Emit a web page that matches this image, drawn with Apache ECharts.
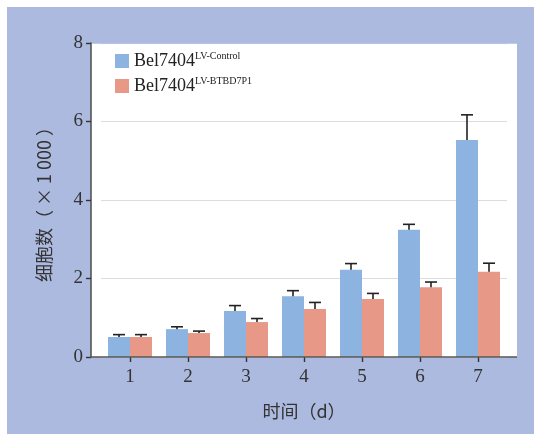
<!DOCTYPE html>
<html>
<head>
<meta charset="utf-8">
<script src="https://cdn.jsdelivr.net/npm/echarts@6/dist/echarts.min.js"></script>
<style>
  html, body { margin: 0; padding: 0; background: #ffffff; }
  #chart { width: 534px; height: 434px; }
</style>
</head>
<body>
<div id="chart"></div>
<script>
// Days of culture
const days = ['1', '2', '3', '4', '5', '6', '7'];

// Cell counts (×1 000), mean and error per day
const controlMean = [0.51, 0.71, 1.17, 1.55, 2.22, 3.24, 5.53];
const controlErr  = [0.06, 0.06, 0.14, 0.14, 0.16, 0.14, 0.64];
const btbdMean    = [0.51, 0.61, 0.89, 1.22, 1.48, 1.78, 2.17];
const btbdErr     = [0.06, 0.05, 0.09, 0.17, 0.14, 0.13, 0.22];

// Y-axis ticks
const yTicks = [0, 2, 4, 6, 8];

const nameControl = 'Bel7404LV-Control';
const nameBtbd = 'Bel7404LV-BTBD7P1';

const BAR_W = 22;
const serif = '"Liberation Serif", "DejaVu Serif", serif';
const cjk = '"Noto Sans CJK SC", sans-serif';

function errorSeries(means, errs, shift) {
  return {
    type: 'custom',
    z: 5,
    silent: true,
    data: means.map((m, i) => [i, m, errs[i]]),
    renderItem: function (params, api) {
      const i = api.value(0), m = api.value(1), e = api.value(2);
      const base = api.coord([i, m]);
      const top = api.coord([i, m + e]);
      const x = base[0] + shift;
      const style = { stroke: '#222', lineWidth: 1.6 };
      return {
        type: 'group',
        children: [
          { type: 'line', shape: { x1: x, y1: base[1], x2: x, y2: top[1] }, style: style },
          { type: 'line', shape: { x1: x - 6, y1: top[1], x2: x + 6, y2: top[1] }, style: style }
        ]
      };
    }
  };
}

const chart = echarts.init(document.getElementById('chart'));
chart.setOption({
  animation: false,
  backgroundColor: '#ffffff',
  graphic: [
    { type: 'rect', z: -100, shape: { x: 7, y: 7, width: 527, height: 427 }, style: { fill: '#adbadf' } },
    { type: 'rect', z: -99, shape: { x: 91, y: 43, width: 426, height: 314 }, style: { fill: '#ffffff' } },
    // band above the plot frame, hides the top grid line
    { type: 'rect', z: 100, shape: { x: 92, y: 7, width: 442, height: 36.8 }, style: { fill: '#adbadf' } },
    { type: 'line', z: 50, shape: { x1: 90, y1: 357, x2: 517, y2: 357 }, style: { stroke: '#555', lineWidth: 1.6 } }
  ],
  grid: { left: 101, right: 27, top: 43, bottom: 77 },
  legend: {
    orient: 'vertical',
    left: 110,
    top: 46,
    icon: 'rect',
    itemWidth: 14,
    itemHeight: 14,
    itemGap: 6,
    data: [nameControl, nameBtbd],
    formatter: function (name) {
      const sup = name === nameControl ? 'LV-Control' : 'LV-BTBD7P1';
      return '{a|Bel7404}{b|' + sup + '}';
    },
    textStyle: {
      rich: {
        a: { fontFamily: serif, fontSize: 18, color: '#222', lineHeight: 20 },
        b: { fontFamily: serif, fontSize: 10, color: '#222', padding: [0, 0, 10, 0] }
      }
    }
  },
  xAxis: {
    type: 'category',
    data: days,
    name: '时间（d）',
    nameLocation: 'middle',
    nameGap: 45,
    nameTextStyle: { fontFamily: cjk, fontSize: 18, color: '#333' },
    axisLine: { show: false },
    axisTick: { show: true, alignWithLabel: true, length: 5, lineStyle: { color: '#333', width: 1.4 } },
    axisLabel: { fontFamily: serif, fontSize: 19, color: '#333', margin: 11 }
  },
  yAxis: {
    type: 'value',
    min: yTicks[0],
    max: yTicks[yTicks.length - 1],
    interval: 2,
    offset: 10,
    name: '细胞数（ × 1 000 ）',
    nameLocation: 'middle',
    nameGap: 38,
    nameTextStyle: { fontFamily: cjk, fontSize: 18, color: '#333' },
    axisLine: { show: true, lineStyle: { color: '#555', width: 1.6 } },
    axisTick: { show: true, length: 5, lineStyle: { color: '#333', width: 1.4 } },
    axisLabel: { fontFamily: serif, fontSize: 19, color: '#333', margin: 8 },
    splitLine: { show: true, lineStyle: { color: '#dcdcdc', width: 1.2 } }
  },
  series: [
    {
      name: nameControl,
      type: 'bar',
      data: controlMean,
      barWidth: BAR_W,
      barGap: '0%',
      itemStyle: { color: '#8db3e1' }
    },
    {
      name: nameBtbd,
      type: 'bar',
      data: btbdMean,
      barWidth: BAR_W,
      barGap: '0%',
      itemStyle: { color: '#e79886' }
    },
    errorSeries(controlMean, controlErr, -BAR_W / 2),
    errorSeries(btbdMean, btbdErr, BAR_W / 2)
  ]
});
</script>
</body>
</html>
